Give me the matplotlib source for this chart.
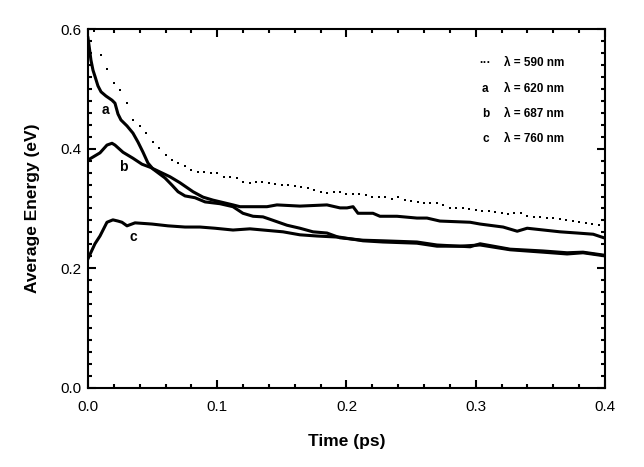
import numpy as np
import matplotlib
matplotlib.use("Agg")
import matplotlib.pyplot as plt
from matplotlib.ticker import MultipleLocator, FormatStrFormatter

plt.rcParams['font.family'] = ['Liberation Sans', 'DejaVu Sans']

# lambda = 590 nm (dotted), sampled every 0.005 ps
t_590 = np.round(np.arange(1, 81) * 0.005, 3)
e_590 = [0.597, 0.557, 0.533, 0.510, 0.498, 0.476, 0.448, 0.438, 0.426, 0.411,
         0.401, 0.389, 0.381, 0.376, 0.371, 0.364, 0.361, 0.361, 0.359, 0.359,
         0.353, 0.353, 0.351, 0.344, 0.343, 0.344, 0.344, 0.343, 0.341, 0.339,
         0.339, 0.338, 0.336, 0.334, 0.331, 0.328, 0.326, 0.328, 0.328, 0.324,
         0.324, 0.324, 0.323, 0.319, 0.319, 0.319, 0.316, 0.319, 0.314, 0.313,
         0.311, 0.309, 0.309, 0.309, 0.306, 0.301, 0.301, 0.301, 0.299, 0.297,
         0.296, 0.296, 0.294, 0.292, 0.291, 0.292, 0.292, 0.287, 0.286, 0.286,
         0.284, 0.284, 0.282, 0.281, 0.279, 0.277, 0.276, 0.274, 0.272, 0.271]

# a: lambda = 620 nm
t_a = [0.0, 0.0008, 0.0023, 0.0039, 0.0054, 0.0077, 0.0101, 0.0139, 0.0186, 0.0209,
       0.0232, 0.0255, 0.0302, 0.0348, 0.0387, 0.0426, 0.0464, 0.0503, 0.0534, 0.0596,
       0.0650, 0.0697, 0.0751, 0.0828, 0.0906, 0.0983, 0.1021, 0.1122, 0.1199, 0.1277,
       0.1354, 0.1408, 0.1540, 0.1640, 0.1741, 0.1849, 0.1950, 0.2128, 0.2282, 0.2545,
       0.2700, 0.2957, 0.3034, 0.3266, 0.3521, 0.3707, 0.3830, 0.3992]
e_a = [0.585, 0.573, 0.548, 0.531, 0.521, 0.505, 0.495, 0.488, 0.481, 0.476,
       0.458, 0.448, 0.438, 0.426, 0.411, 0.394, 0.376, 0.366, 0.361, 0.351,
       0.339, 0.328, 0.321, 0.318, 0.311, 0.309, 0.308, 0.303, 0.292, 0.287,
       0.286, 0.282, 0.272, 0.267, 0.261, 0.259, 0.251, 0.247, 0.246, 0.244,
       0.239, 0.236, 0.241, 0.232, 0.229, 0.226, 0.227, 0.222]

# b: lambda = 687 nm
t_b = [0.0, 0.0093, 0.0147, 0.0186, 0.0209, 0.0271, 0.0348, 0.0418, 0.0480, 0.0557,
       0.0635, 0.0712, 0.0813, 0.0890, 0.0967, 0.1122, 0.1176, 0.1253, 0.1385, 0.1462,
       0.1640, 0.1849, 0.1950, 0.2004, 0.2051, 0.2089, 0.2205, 0.2259, 0.2391, 0.2545,
       0.2623, 0.2723, 0.2957, 0.3034, 0.3212, 0.3321, 0.3398, 0.3653, 0.3785, 0.3909,
       0.3992]
e_b = [0.381, 0.393, 0.406, 0.409, 0.406, 0.394, 0.384, 0.374, 0.369, 0.361,
       0.353, 0.343, 0.328, 0.319, 0.314, 0.306, 0.303, 0.303, 0.303, 0.306,
       0.304, 0.306, 0.301, 0.301, 0.303, 0.292, 0.292, 0.287, 0.287, 0.284,
       0.284, 0.279, 0.277, 0.274, 0.269, 0.262, 0.267, 0.261, 0.259, 0.257,
       0.251]

# c: lambda = 760 nm
t_c = [0.0, 0.0054, 0.0093, 0.0147, 0.0193, 0.0232, 0.0263, 0.0302, 0.0364, 0.0495,
       0.0619, 0.0751, 0.0867, 0.0983, 0.1122, 0.1253, 0.1509, 0.1640, 0.1772, 0.1950,
       0.2128, 0.2282, 0.2545, 0.2700, 0.2878, 0.3034, 0.3266, 0.3521, 0.3707, 0.3830,
       0.3992]
e_c = [0.216, 0.241, 0.254, 0.277, 0.281, 0.279, 0.277, 0.271, 0.276, 0.274,
       0.271, 0.269, 0.269, 0.267, 0.264, 0.266, 0.261, 0.256, 0.254, 0.252,
       0.246, 0.244, 0.242, 0.237, 0.237, 0.239, 0.231, 0.227, 0.224, 0.226,
       0.221]

legend_rows = ['\u00b7\u00b7\u00b7', 'a', 'b', 'c']
legend_text = ['\u03bb = 590 nm', '\u03bb = 620 nm', '\u03bb = 687 nm', '\u03bb = 760 nm']

fig = plt.figure(figsize=(6.44, 4.67), dpi=100)
ax = fig.add_axes([0.1366, 0.1692, 0.8028, 0.7687])

ax.plot(t_590, e_590, linestyle='none', marker='s', markersize=2.1,
        markeredgewidth=0, color='black')
ax.plot(t_a, e_a, color='black', lw=2.2)
ax.plot(t_b, e_b, color='black', lw=2.2)
ax.plot(t_c, e_c, color='black', lw=2.2)

ax.text(0.0132, 0.465, 'a', fontsize=10, fontweight='bold', ha='center', va='center')
ax.text(0.0271, 0.369, 'b', fontsize=10, fontweight='bold', ha='center', va='center')
ax.text(0.0348, 0.252, 'c', fontsize=10, fontweight='bold', ha='center', va='center')

# legend written as text
for i, (m, s) in enumerate(zip(legend_rows, legend_text)):
    y = 0.543 - i * 0.0425
    ax.text(0.3075, y, m, fontsize=8.5, fontweight='bold', ha='center', va='center')
    ax.text(0.3215, y, s, fontsize=8.5, fontweight='bold', ha='left', va='center')

ax.set_xlim(0, 0.4)
ax.set_ylim(0, 0.6)
ax.xaxis.set_major_locator(MultipleLocator(0.1))
ax.xaxis.set_minor_locator(MultipleLocator(0.02))
ax.yaxis.set_major_locator(MultipleLocator(0.2))
ax.yaxis.set_minor_locator(MultipleLocator(0.02))
ax.xaxis.set_major_formatter(FormatStrFormatter('%.1f'))
ax.yaxis.set_major_formatter(FormatStrFormatter('%.1f'))

ax.tick_params(which='both', direction='in', top=True, right=True, width=1.5)
ax.tick_params(which='major', length=6, labelsize=11)
ax.tick_params(which='minor', length=3)
ax.tick_params(axis='x', pad=9)
ax.tick_params(axis='y', pad=5)
for sp in ax.spines.values():
    sp.set_linewidth(1.5)

ax.set_xlabel('Time (ps)', fontsize=12.5, fontweight='bold', labelpad=14)
ax.set_ylabel('Average Energy (eV)', fontsize=12.5, fontweight='bold', labelpad=14)

plt.savefig('out.png', dpi=100)
plt.close()
